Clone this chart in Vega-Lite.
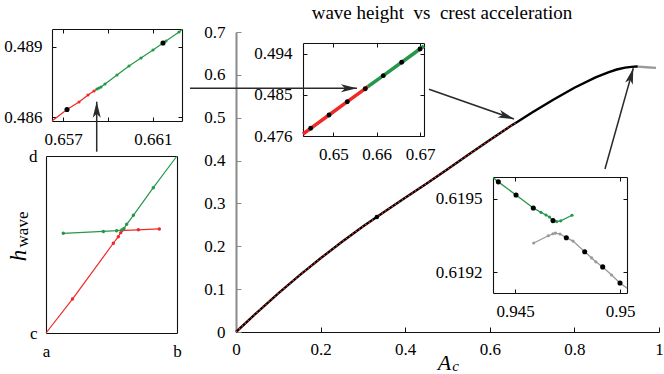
{
  "$schema": "https://vega.github.io/schema/vega-lite/v6.json",
  "width": 664,
  "height": 374,
  "autosize": {"type": "none"},
  "padding": 0,
  "background": "white",
  "view": {"stroke": null},
  "config": {
    "font": "Liberation Serif",
    "axis": {
      "labelFont": "Liberation Serif", "labelFontSize": 17, "labelColor": "#000",
      "domainColor": "#111", "domainWidth": 1.1, "tickColor": "#111", "tickWidth": 1,
      "labelFlush": false, "labelOverlap": false, "grid": false,
      "titleFont": "Liberation Serif", "titleColor": "#000", "titleFontWeight": "normal"
    }
  },
  "title": {
    "text": "wave height \u00a0vs \u00a0crest acceleration",
    "font": "Liberation Serif", "fontSize": 19, "fontWeight": "normal", "color": "#000",
    "anchor": "middle", "frame": "group", "offset": -20, "baseline": "alphabetic", "dx": 110, "dy": 18
  },
  "datasets": {
    "main": [
      {"A": 0, "h": 0, "s": "c"}, {"A": 0.05, "h": 0.046, "s": "c"}, {"A": 0.1, "h": 0.09, "s": "c"},
      {"A": 0.15, "h": 0.132, "s": "c"}, {"A": 0.2, "h": 0.172, "s": "c"}, {"A": 0.25, "h": 0.21, "s": "c"},
      {"A": 0.3, "h": 0.246, "s": "c"}, {"A": 0.35, "h": 0.28, "s": "c"}, {"A": 0.4, "h": 0.313, "s": "c"},
      {"A": 0.45, "h": 0.346, "s": "c"}, {"A": 0.5, "h": 0.38, "s": "c"}, {"A": 0.55, "h": 0.414, "s": "c"},
      {"A": 0.6, "h": 0.448, "s": "c"}, {"A": 0.65, "h": 0.481, "s": "c"}, {"A": 0.662, "h": 0.4885, "s": "c"},
      {"A": 0.7, "h": 0.512, "s": "c"}, {"A": 0.75, "h": 0.542, "s": "c"}, {"A": 0.8, "h": 0.57, "s": "c"},
      {"A": 0.85, "h": 0.594, "s": "c"}, {"A": 0.88, "h": 0.606, "s": "c"}, {"A": 0.9, "h": 0.6125, "s": "c"},
      {"A": 0.92, "h": 0.6168, "s": "c"}, {"A": 0.935, "h": 0.6187, "s": "c"}, {"A": 0.947, "h": 0.61936, "s": "c"},
      {"A": 0.95, "h": 0.61916, "s": "c"},
      {"A": 0.95, "h": 0.61916, "s": "t"}, {"A": 0.97, "h": 0.6178, "s": "t"}, {"A": 0.993, "h": 0.6162, "s": "t"},
      {"A": 0.333, "h": 0.2684, "s": "m"}
    ],
    "arrows": [
      {"id": 1, "x": -0.3293, "y": 0.4207, "x2": -0.3293, "y2": 0.5374},
      {"id": 2, "x": -0.1087, "y": 0.5686, "x2": 0.2860, "y2": 0.5686},
      {"id": 3, "x": 0.4563, "y": 0.5663, "x2": 0.6572, "y2": 0.4970},
      {"id": 4, "x": 0.8723, "y": 0.3803, "x2": 0.9392, "y2": 0.6153}
    ],
    "tl": [
      {"x": 0.656511, "y": 0.485829, "b": "A", "p": "n"},
      {"x": 0.657178, "y": 0.486321, "b": "A", "p": "k"},
      {"x": 0.657711, "y": 0.486643, "b": "A", "p": "d"},
      {"x": 0.658111, "y": 0.486943, "b": "A", "p": "d"},
      {"x": 0.658378, "y": 0.487114, "b": "A", "p": "d"},
      {"x": 0.658511, "y": 0.487200, "b": "A", "p": "n"},
      {"x": 0.658511, "y": 0.487200, "b": "B", "p": "d"},
      {"x": 0.658600, "y": 0.487243, "b": "B", "p": "d"},
      {"x": 0.658689, "y": 0.487286, "b": "B", "p": "d"},
      {"x": 0.658867, "y": 0.487414, "b": "B", "p": "d"},
      {"x": 0.659400, "y": 0.487800, "b": "B", "p": "d"},
      {"x": 0.659933, "y": 0.488186, "b": "B", "p": "d"},
      {"x": 0.660467, "y": 0.488529, "b": "B", "p": "d"},
      {"x": 0.661000, "y": 0.488871, "b": "B", "p": "d"},
      {"x": 0.661444, "y": 0.489171, "b": "B", "p": "k"},
      {"x": 0.661578, "y": 0.489257, "b": "B", "p": "d"},
      {"x": 0.662156, "y": 0.489643, "b": "B", "p": "d"},
      {"x": 0.662289, "y": 0.489750, "b": "B", "p": "n"}
    ],
    "sc": [
      {"x": 0, "y": 0, "b": "A", "p": "n"},
      {"x": 0.202, "y": 0.192, "b": "A", "p": "d"},
      {"x": 0.514, "y": 0.507, "b": "A", "p": "d"},
      {"x": 0.552, "y": 0.544, "b": "A", "p": "d"},
      {"x": 0.570, "y": 0.567, "b": "A", "p": "d"},
      {"x": 0.595, "y": 0.580, "b": "A", "p": "n"},
      {"x": 0.705, "y": 0.583, "b": "A", "p": "d"},
      {"x": 0.865, "y": 0.588, "b": "A", "p": "d"},
      {"x": 0.132, "y": 0.563, "b": "B", "p": "d"},
      {"x": 0.438, "y": 0.574, "b": "B", "p": "d"},
      {"x": 0.539, "y": 0.578, "b": "B", "p": "d"},
      {"x": 0.578, "y": 0.582, "b": "B", "p": "d"},
      {"x": 0.595, "y": 0.591, "b": "B", "p": "d"},
      {"x": 0.616, "y": 0.614, "b": "B", "p": "d"},
      {"x": 0.667, "y": 0.665, "b": "B", "p": "d"},
      {"x": 0.819, "y": 0.821, "b": "B", "p": "d"},
      {"x": 1.0, "y": 1.0, "b": "B", "p": "n"}
    ],
    "mi": [
      {"x": 0.64301, "y": 0.47644, "b": "A", "p": "n"},
      {"x": 0.64479, "y": 0.47769, "b": "A", "p": "k"},
      {"x": 0.64901, "y": 0.48061, "b": "A", "p": "k"},
      {"x": 0.65323, "y": 0.48353, "b": "A", "p": "k"},
      {"x": 0.65738, "y": 0.48638, "b": "A", "p": "k"},
      {"x": 0.65800, "y": 0.48687, "b": "A", "p": "n"},
      {"x": 0.65800, "y": 0.48687, "b": "B", "p": "n"},
      {"x": 0.66153, "y": 0.48924, "b": "B", "p": "k"},
      {"x": 0.66578, "y": 0.49218, "b": "B", "p": "k"},
      {"x": 0.67000, "y": 0.49510, "b": "B", "p": "k"},
      {"x": 0.67092, "y": 0.49575, "b": "B", "p": "n"}
    ],
    "br": [
      {"x": 0.943952, "y": 0.619588, "b": "B", "p": "n"},
      {"x": 0.944205, "y": 0.619570, "b": "B", "p": "k"},
      {"x": 0.945048, "y": 0.619516, "b": "B", "p": "k"},
      {"x": 0.945871, "y": 0.619463, "b": "B", "p": "k"},
      {"x": 0.946238, "y": 0.619445, "b": "B", "p": "d"},
      {"x": 0.946476, "y": 0.619434, "b": "B", "p": "d"},
      {"x": 0.946643, "y": 0.619426, "b": "B", "p": "d"},
      {"x": 0.946810, "y": 0.619411, "b": "B", "p": "k"},
      {"x": 0.946986, "y": 0.619407, "b": "B", "p": "d"},
      {"x": 0.947176, "y": 0.619410, "b": "B", "p": "d"},
      {"x": 0.947714, "y": 0.619433, "b": "B", "p": "d"},
      {"x": 0.945890, "y": 0.619319, "b": "C", "p": "d"},
      {"x": 0.946586, "y": 0.619349, "b": "C", "p": "d"},
      {"x": 0.946810, "y": 0.619357, "b": "C", "p": "d"},
      {"x": 0.946929, "y": 0.619360, "b": "C", "p": "d"},
      {"x": 0.947143, "y": 0.619356, "b": "C", "p": "d"},
      {"x": 0.947443, "y": 0.619341, "b": "C", "p": "k"},
      {"x": 0.947762, "y": 0.619327, "b": "C", "p": "d"},
      {"x": 0.948319, "y": 0.619283, "b": "C", "p": "k"},
      {"x": 0.948650, "y": 0.619258, "b": "C", "p": "d"},
      {"x": 0.948850, "y": 0.619242, "b": "C", "p": "d"},
      {"x": 0.949176, "y": 0.619221, "b": "C", "p": "k"},
      {"x": 0.949600, "y": 0.619188, "b": "C", "p": "d"},
      {"x": 0.950000, "y": 0.619155, "b": "C", "p": "k"},
      {"x": 0.950333, "y": 0.619134, "b": "C", "p": "n"}
    ]
  },
  "layer": [
    {
      "data": {"name": "main"},
      "encoding": {
        "x": {"field": "A", "type": "quantitative",
          "scale": {"domain": [0, 1], "range": [236, 659], "nice": false, "zero": false},
          "axis": {"orient": "bottom", "offset": -42, "values": [0, 0.2, 0.4, 0.6, 0.8, 1], "format": "~g",
            "tickSize": -5, "labelPadding": 14.5,
            "title": "A", "titleFontStyle": "italic", "titleFontSize": 22, "titleX": 444, "titleY": 37,
            "titleBaseline": "alphabetic", "titleAlign": "center"}},
        "y": {"field": "h", "type": "quantitative",
          "scale": {"domain": [0, 0.7], "range": [332, 32], "nice": false, "zero": false},
          "axis": {"orient": "left", "offset": -236, "values": [0, 0.1, 0.2, 0.3, 0.4, 0.5, 0.6, 0.7], "format": "~g",
            "tickSize": -5, "labelPadding": 16, "title": null, "domainColor": "#8a8a8a", "domainWidth": 2, "tickColor": "#8a8a8a"}}
      },
      "layer": [
        {"transform": [{"filter": "datum.s == 'c'"}], "mark": {"type": "line", "color": "#000", "strokeWidth": 2.4}},
        {"transform": [{"filter": "datum.s == 'c' && datum.A <= 0.662"}], "mark": {"type": "line", "color": "#ff2a2a", "strokeWidth": 1.2, "strokeDash": [1.5, 2.5]}},
        {"transform": [{"filter": "datum.s == 't'"}], "mark": {"type": "line", "color": "#9a9a9a", "strokeWidth": 2.4}},
        {"transform": [{"filter": "datum.s == 'm'"}], "mark": {"type": "point", "filled": true, "color": "#000", "size": 20, "opacity": 1}}
      ]
    },
    {
      "data": {"name": "arrows"},
      "encoding": {
        "x": {"field": "x", "type": "quantitative",
          "scale": {"domain": [0, 1], "range": [236, 659], "nice": false, "zero": false},
          "axis": {"orient": "top", "offset": -32, "values": [0.2, 0.4, 0.6, 0.8], "labels": false, "tickSize": -5, "title": null}},
        "y": {"field": "y", "type": "quantitative",
          "scale": {"domain": [0, 0.7], "range": [332, 32], "nice": false, "zero": false},
          "axis": {"orient": "right", "offset": -5, "values": [0.1, 0.2, 0.3, 0.4, 0.5, 0.6], "labels": false, "tickSize": -5, "title": null}}
      },
      "layer": [
        {"mark": {"type": "rule", "color": "#2a2a2a", "strokeWidth": 1.5}, "encoding": {"x2": {"field": "x2"}, "y2": {"field": "y2"}}},
        {"transform": [{"filter": "datum.id == 1"}],
          "mark": {"type": "point", "shape": "M0,0 L0.5,2 L0,1.5 L-0.5,2 Z", "filled": true, "size": 256, "angle": 0, "color": "#2a2a2a", "opacity": 1, "strokeWidth": 0},
          "encoding": {"x": {"field": "x2", "type": "quantitative", "axis": null, "scale": {"domain": [0, 1], "range": [236, 659], "nice": false, "zero": false}},
                       "y": {"field": "y2", "type": "quantitative", "axis": null, "scale": {"domain": [0, 0.7], "range": [332, 32], "nice": false, "zero": false}}}},
        {"transform": [{"filter": "datum.id == 2"}],
          "mark": {"type": "point", "shape": "M0,0 L0.5,2 L0,1.5 L-0.5,2 Z", "filled": true, "size": 256, "angle": 90, "color": "#2a2a2a", "opacity": 1, "strokeWidth": 0},
          "encoding": {"x": {"field": "x2", "type": "quantitative", "axis": null, "scale": {"domain": [0, 1], "range": [236, 659], "nice": false, "zero": false}},
                       "y": {"field": "y2", "type": "quantitative", "axis": null, "scale": {"domain": [0, 0.7], "range": [332, 32], "nice": false, "zero": false}}}},
        {"transform": [{"filter": "datum.id == 3"}],
          "mark": {"type": "point", "shape": "M0,0 L0.5,2 L0,1.5 L-0.5,2 Z", "filled": true, "size": 256, "angle": 109.3, "color": "#2a2a2a", "opacity": 1, "strokeWidth": 0},
          "encoding": {"x": {"field": "x2", "type": "quantitative", "axis": null, "scale": {"domain": [0, 1], "range": [236, 659], "nice": false, "zero": false}},
                       "y": {"field": "y2", "type": "quantitative", "axis": null, "scale": {"domain": [0, 0.7], "range": [332, 32], "nice": false, "zero": false}}}},
        {"transform": [{"filter": "datum.id == 4"}],
          "mark": {"type": "point", "shape": "M0,0 L0.5,2 L0,1.5 L-0.5,2 Z", "filled": true, "size": 256, "angle": 15.7, "color": "#2a2a2a", "opacity": 1, "strokeWidth": 0},
          "encoding": {"x": {"field": "x2", "type": "quantitative", "axis": null, "scale": {"domain": [0, 1], "range": [236, 659], "nice": false, "zero": false}},
                       "y": {"field": "y2", "type": "quantitative", "axis": null, "scale": {"domain": [0, 0.7], "range": [332, 32], "nice": false, "zero": false}}}}
      ]
    },
    {
      "data": {"name": "tl"},
      "encoding": {
        "x": {"field": "x", "type": "quantitative",
          "scale": {"domain": [0.656511, 0.662289], "range": [52, 182], "nice": false, "zero": false},
          "axis": {"orient": "bottom", "offset": -253, "values": [0.657, 0.659, 0.661],
            "labelExpr": "abs(datum.value - 0.659) < 0.0001 ? '' : format(datum.value, '.3f')",
            "tickSize": -4, "labelPadding": 14, "title": null}},
        "y": {"field": "y", "type": "quantitative",
          "scale": {"domain": [0.485829, 0.489771], "range": [121, 29], "nice": false, "zero": false},
          "axis": {"orient": "left", "offset": -52, "values": [0.486, 0.489], "format": ".3f",
            "tickSize": -4, "labelPadding": 14, "title": null}}
      },
      "layer": [
        {"mark": {"type": "line", "strokeWidth": 1.2},
          "encoding": {"color": {"field": "b", "type": "nominal", "scale": {"domain": ["A", "B", "C"], "range": ["#f02828", "#24974a", "#999999"]}, "legend": null}}},
        {"transform": [{"filter": "datum.p == 'd'"}], "mark": {"type": "point", "filled": true, "size": 10, "opacity": 1},
          "encoding": {"color": {"field": "b", "type": "nominal", "scale": {"domain": ["A", "B", "C"], "range": ["#f02828", "#24974a", "#999999"]}, "legend": null}}},
        {"transform": [{"filter": "datum.p == 'k'"}], "mark": {"type": "point", "filled": true, "size": 26, "opacity": 1, "color": "#000"}}
      ]
    },
    {
      "data": {"name": "tl"},
      "mark": {"type": "point", "opacity": 0},
      "encoding": {
        "x": {"field": "x", "type": "quantitative",
          "scale": {"domain": [0.656511, 0.662289], "range": [52, 182], "nice": false, "zero": false},
          "axis": {"orient": "top", "offset": -29, "values": [0.657, 0.659, 0.661], "labels": false, "tickSize": -4, "title": null}},
        "y": {"field": "y", "type": "quantitative",
          "scale": {"domain": [0.485829, 0.489771], "range": [121, 29], "nice": false, "zero": false},
          "axis": {"orient": "right", "offset": -482, "values": [0.486, 0.489], "labels": false, "tickSize": -4, "title": null}}
      }
    },
    {
      "data": {"name": "sc"},
      "encoding": {
        "x": {"field": "x", "type": "quantitative",
          "scale": {"domain": [0, 1], "range": [46, 177], "nice": false, "zero": false},
          "axis": {"orient": "bottom", "offset": -41, "values": [0, 1], "labelExpr": "datum.value < 0.5 ? 'a' : 'b'",
            "ticks": false, "labelPadding": 10.5, "title": null}},
        "y": {"field": "y", "type": "quantitative",
          "scale": {"domain": [0, 1], "range": [333, 156], "nice": false, "zero": false},
          "axis": {"orient": "left", "offset": -46, "values": [0, 1], "labelExpr": "datum.value < 0.5 ? 'c' : 'd'",
            "ticks": false, "labelPadding": 9,
            "title": "h", "titleFontStyle": "italic", "titleFontSize": 23, "titleAngle": 270,
            "titleX": -21, "titleY": 255, "titleBaseline": "alphabetic", "titleAlign": "center"}}
      },
      "layer": [
        {"mark": {"type": "line", "strokeWidth": 1.2},
          "encoding": {"color": {"field": "b", "type": "nominal", "scale": {"domain": ["A", "B", "C"], "range": ["#f02828", "#24974a", "#999999"]}, "legend": null}}},
        {"transform": [{"filter": "datum.p == 'd'"}], "mark": {"type": "point", "filled": true, "size": 12, "opacity": 1},
          "encoding": {"color": {"field": "b", "type": "nominal", "scale": {"domain": ["A", "B", "C"], "range": ["#f02828", "#24974a", "#999999"]}, "legend": null}}}
      ]
    },
    {
      "data": {"name": "sc"},
      "mark": {"type": "point", "opacity": 0},
      "encoding": {
        "x": {"field": "x", "type": "quantitative",
          "scale": {"domain": [0, 1], "range": [46, 177], "nice": false, "zero": false},
          "axis": {"orient": "top", "offset": -156, "values": [0, 1], "labels": false, "ticks": false, "title": null}},
        "y": {"field": "y", "type": "quantitative",
          "scale": {"domain": [0, 1], "range": [333, 156], "nice": false, "zero": false},
          "axis": {"orient": "right", "offset": -487, "values": [0, 1], "labels": false, "ticks": false,
            "title": "wave", "titleFontSize": 17, "titleAngle": 270, "titleX": -150, "titleY": 229,
            "titleBaseline": "alphabetic", "titleAlign": "center"}}
      }
    },
    {
      "data": {"name": "mi"},
      "encoding": {
        "x": {"field": "x", "type": "quantitative",
          "scale": {"domain": [0.64301, 0.67092], "range": [303, 424], "nice": false, "zero": false},
          "axis": {"orient": "bottom", "offset": -238, "values": [0.65, 0.66, 0.67], "format": ".2f",
            "tickSize": -4, "labelPadding": 14, "title": null}},
        "y": {"field": "y", "type": "quantitative",
          "scale": {"domain": [0.476, 0.49641], "range": [136, 43], "nice": false, "zero": false},
          "axis": {"orient": "left", "offset": -303, "values": [0.476, 0.485, 0.494], "format": ".3f",
            "tickSize": -4, "labelPadding": 15, "title": null}}
      },
      "layer": [
        {"mark": {"type": "line", "strokeWidth": 3.5},
          "encoding": {"color": {"field": "b", "type": "nominal", "scale": {"domain": ["A", "B", "C"], "range": ["#f02828", "#24974a", "#999999"]}, "legend": null}}},
        {"transform": [{"filter": "datum.p == 'k'"}], "mark": {"type": "point", "filled": true, "size": 24, "opacity": 1, "color": "#000"}}
      ]
    },
    {
      "data": {"name": "mi"},
      "mark": {"type": "point", "opacity": 0},
      "encoding": {
        "x": {"field": "x", "type": "quantitative",
          "scale": {"domain": [0.64301, 0.67092], "range": [303, 424], "nice": false, "zero": false},
          "axis": {"orient": "top", "offset": -43, "values": [0.65, 0.66, 0.67], "labels": false, "tickSize": -4, "title": null}},
        "y": {"field": "y", "type": "quantitative",
          "scale": {"domain": [0.476, 0.49641], "range": [136, 43], "nice": false, "zero": false},
          "axis": {"orient": "right", "offset": -240, "values": [0.476, 0.485, 0.494], "labels": false, "tickSize": -4, "title": null}}
      }
    },
    {
      "data": {"name": "br"},
      "encoding": {
        "x": {"field": "x", "type": "quantitative",
          "scale": {"domain": [0.943952, 0.950333], "range": [493, 627], "nice": false, "zero": false},
          "axis": {"orient": "bottom", "offset": -81, "values": [0.945, 0.95], "format": "~g",
            "tickSize": -4, "labelPadding": 14, "title": null}},
        "y": {"field": "y", "type": "quantitative",
          "scale": {"domain": [0.619114, 0.61959], "range": [293, 177], "nice": false, "zero": false},
          "axis": {"orient": "left", "offset": -493, "values": [0.6192, 0.6195], "format": ".4f",
            "tickSize": -4, "labelPadding": 15, "title": null}}
      },
      "layer": [
        {"mark": {"type": "line", "strokeWidth": 1.3},
          "encoding": {"color": {"field": "b", "type": "nominal", "scale": {"domain": ["A", "B", "C"], "range": ["#f02828", "#24974a", "#999999"]}, "legend": null}}},
        {"transform": [{"filter": "datum.p == 'd'"}], "mark": {"type": "point", "filled": true, "size": 10, "opacity": 1},
          "encoding": {"color": {"field": "b", "type": "nominal", "scale": {"domain": ["A", "B", "C"], "range": ["#f02828", "#24974a", "#999999"]}, "legend": null}}},
        {"transform": [{"filter": "datum.p == 'k'"}], "mark": {"type": "point", "filled": true, "size": 26, "opacity": 1, "color": "#000"}}
      ]
    },
    {
      "data": {"name": "br"},
      "mark": {"type": "point", "opacity": 0},
      "encoding": {
        "x": {"field": "x", "type": "quantitative",
          "scale": {"domain": [0.943952, 0.950333], "range": [493, 627], "nice": false, "zero": false},
          "axis": {"orient": "top", "offset": -177, "values": [0.945, 0.95], "labels": false, "tickSize": -4, "title": null}},
        "y": {"field": "y", "type": "quantitative",
          "scale": {"domain": [0.619114, 0.61959], "range": [293, 177], "nice": false, "zero": false},
          "axis": {"orient": "right", "offset": -37, "values": [0.6192, 0.6195], "labels": false, "tickSize": -4,
            "title": "c", "titleFontStyle": "italic", "titleFontSize": 15, "titleAngle": 0,
            "titleX": -172, "titleY": 370.5, "titleBaseline": "alphabetic", "titleAlign": "center"}}
      }
    }
  ],
  "resolve": {"scale": {"x": "independent", "y": "independent"}}
}
